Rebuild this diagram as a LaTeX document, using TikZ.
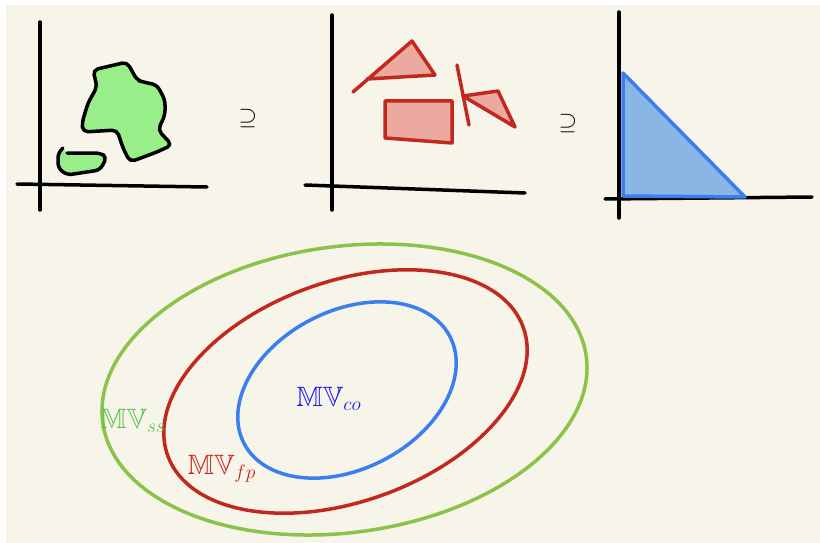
\documentclass[tikz,border=0pt]{standalone}
\usepackage{amsmath,amssymb}
\usepackage{graphicx}
\usepackage{xcolor}
\definecolor{bgPaper}{HTML}{F7F5EA}
\definecolor{ssGreen}{HTML}{8BC34A}
\definecolor{ssText}{HTML}{5CC24A}
\definecolor{ssFill}{HTML}{98EE88}
\definecolor{fpRed}{HTML}{C3281E}
\definecolor{fpFill}{HTML}{EBA9A0}
\definecolor{coBlue}{HTML}{3A7EF2}
\definecolor{coFill}{HTML}{8AB6E6}
\definecolor{coText}{HTML}{1A1AF5}
\newcommand{\mvset}[1]{\scalebox{1.35}{$\mathbb{M}\mathbb{V}_{#1}$}}
\newcommand{\inclsym}{\scalebox{1.15}{$\supseteq$}}

\begin{document}
\begin{tikzpicture}[
  x=1pt, y=-1pt,
  axis/.style={line width=3.5pt, line cap=round, black},
  sketch/.style={line width=3.5pt, line cap=round, line join=round},
  setring/.style={line width=3.5pt},
  setlabel/.style={inner sep=0pt, font=\huge},
  incl/.style={inner sep=0pt, font=\huge}
]
  \useasboundingbox (0,0) rectangle (820,543);
  \fill[bgPaper] (6,5) rectangle (820,543);

  % first panel: non-convex sets
  \draw[axis] (40,22)--(40,210);
  \draw[axis] (17,184)--(207,187);
  \draw[sketch,fill=ssFill,rounded corners=5pt]
    (93,70)--(127,62)--(137,80)--(143,82)--(157,85)--(165,100)--(165,115)
    --(158,130)--(172,145)--(157,152)--(130,162)--(123,148)--(117,130)
    --(83,132)--(82,123)--(88,103)--(97,87)--cycle;
  \draw[sketch,fill=ssFill,rounded corners=5pt]
    (63,148)--(58,153)--(58,168)--(67,175)--(100,170)--(107,157)
    --(100,153)--(67,153);
  \node[incl] (sup1) at (248,119) {\inclsym};

  % second panel: polytopes
  \draw[axis] (332,15)--(332,210);
  \draw[axis] (305,185)--(525,193);
  \fill[fpFill] (412,41)--(435,75)--(367,79)--cycle;
  \draw[sketch,fpRed] (353,92)--(412,41)--(435,75)--(367,79);
  \draw[sketch,fpRed,fill=fpFill] (385,101)--(452,101)--(452,143)--(385,138)--cycle;
  \draw[sketch,fpRed] (457,65)--(469,125);
  \draw[sketch,fpRed,fill=fpFill] (463,96)--(498,91)--(515,127)--cycle;
  \node[incl] (sup2) at (568,124) {\inclsym};

  % third panel: simplex
  \draw[axis] (619,12)--(619,218);
  \draw[axis] (605,199)--(812,197);
  \draw[sketch,coBlue,fill=coFill] (623,73)--(745,197)--(623,196)--cycle;

  % nested sets
  \draw[setring,ssGreen,rotate around={7.8:(344.5,389.5)}] (344.5,389.5) ellipse (244 and 143);
  \draw[setring,fpRed,rotate around={19.8:(345.5,391.5)}] (345.5,391.5) ellipse (189 and 110);
  \draw[setring,coBlue,rotate around={27.4:(347,390)}] (347,390) ellipse (116 and 79);
  \node[setlabel,text=ssText] (ss) at (133,421) {\mvset{ss}};
  \node[setlabel,text=fpRed] (fp) at (222,469) {\mvset{fp}};
  \node[setlabel,text=coText] (co) at (329,399) {\mvset{co}};
\end{tikzpicture}
\end{document}
